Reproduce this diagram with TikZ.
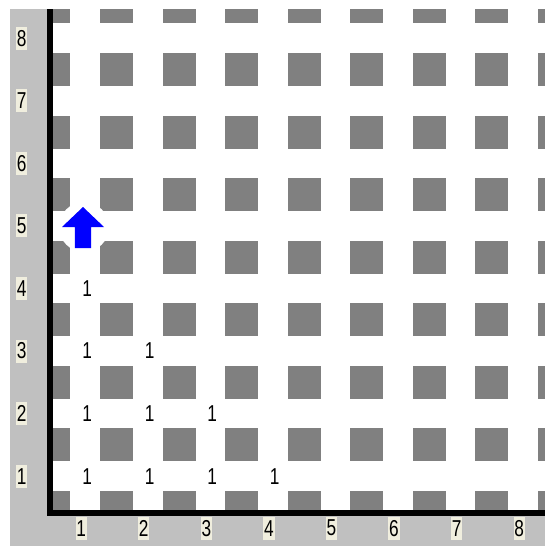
\documentclass[tikz,border=0pt]{standalone}
\usepackage{fontspec}
\setmainfont{Liberation Sans}
\usepackage[svgnames]{xcolor}
\definecolor{PanelGray}{RGB}{192,192,192}
\definecolor{BlockGray}{RGB}{128,128,128}
\definecolor{TagBeige}{RGB}{240,238,222}
\tikzset{
  block/.style={fill=BlockGray},
  tag/.style={fill=TagBeige,inner sep=0pt,minimum width=15pt,minimum height=23pt,
    xscale=0.75,font=\fontsize{23}{23}\selectfont},
  cellnum/.style={inner sep=0pt,xscale=0.75,font=\fontsize{23}{23}\selectfont},
}

\begin{document}
\begin{tikzpicture}[x=1pt,y=-1pt]
  \useasboundingbox (0,0) rectangle (545,546);

  % 背景
  \fill[PanelGray] (10,9) rectangle (545,546);
  \fill[white] (53,9) rectangle (545,510);

  % 方块
  \begin{scope}
    \clip (53,9) rectangle (545,510);
    \begin{scope}[shift={(53.9,507.5)},x=62.57pt,y=62.57pt]
      \foreach \i in {0,...,8}
        \foreach \j in {0,...,8}
          \fill[block] (\i,\j) +(-16.5pt,-16.5pt) rectangle +(16.5pt,16.5pt);
    \end{scope}
  \end{scope}

  % 坐标轴
  \coordinate (ytop) at (50.3,9);
  \coordinate (origin) at (50.3,512.5);
  \coordinate (xend) at (545,512.5);
  \draw[line width=6pt] (ytop) -- (origin) -- (xend);

  % 箭头
  \coordinate (bot) at (84,227);
  \fill[white] (bot) circle (25);
  \fill[blue] (83,207) -- (104,227) -- (91.2,227) -- (91.2,248)
    -- (74.8,248) -- (74.8,227) -- (62,227) -- cycle;

  % 标签
  \begin{scope}[shift={(53.9,507.5)},x=62.57pt,y=62.57pt]
    \foreach \n in {1,...,8} {
      \node[tag] (row\n) at (-0.515,\n-0.5) {\n};
      \node[tag] (col\n) at (\n-0.564,-0.33) {\n};
    }
    \foreach \c/\r in {1/4,1/3,2/3,1/2,2/2,3/2,1/1,2/1,3/1,4/1}
      \node[cellnum] (n\c\r) at (\c-0.47,\r-0.5) {1};
  \end{scope}
\end{tikzpicture}
\end{document}
